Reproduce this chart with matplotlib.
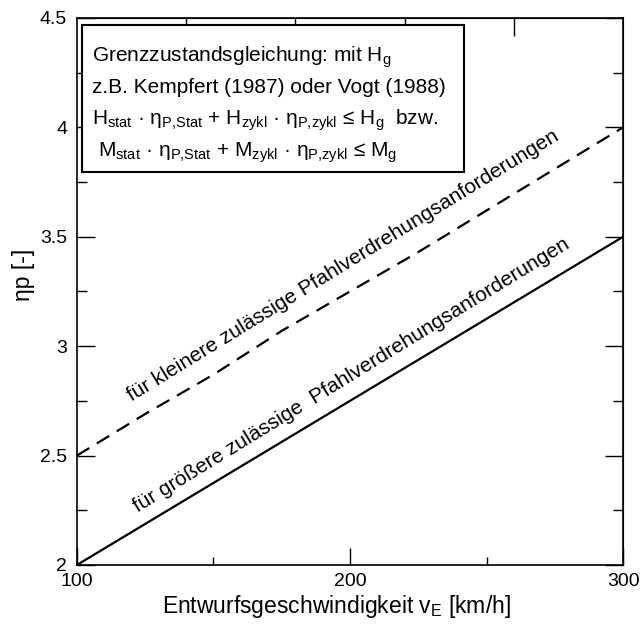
import matplotlib
matplotlib.use('Agg')
import matplotlib.pyplot as plt
from matplotlib.patches import Rectangle

plt.rcParams['font.family'] = ['Liberation Sans', 'DejaVu Sans']
plt.rcParams['mathtext.fontset'] = 'custom'
plt.rcParams['mathtext.rm'] = 'Liberation Sans'
plt.rcParams['mathtext.it'] = 'Liberation Sans:italic'
plt.rcParams['mathtext.default'] = 'regular'

# data
v_solid = [100, 300]
eta_solid = [2.0, 3.5]
v_dash = [100, 125, 150, 175, 200, 225, 250, 275, 300]
eta_dash = [2.5, 2.69, 2.87, 3.07, 3.25, 3.43, 3.62, 3.81, 4.0]

x_major = [100, 200, 300]
x_major_labels = ['100', '200', '300']
x_minor = [150, 250]
x_top = [140, 180, 220, 260]
y_major = [2, 2.5, 3, 3.5, 4, 4.5]
y_major_labels = ['2', '2.5', '3', '3.5', '4', '4.5']
y_minor = [2.25, 2.75, 3.25, 3.75, 4.25]

box_lines = [
    'Grenzzustandsgleichung: mit H$_{g}$',
    'z.B. Kempfert (1987) oder Vogt (1988)',
    'H$_{stat}$ · η$_{P{,}Stat}$ + H$_{zykl}$ · η$_{P{,}zykl}$ ≤ H$_{g}$  bzw.',
    'M$_{stat}$ · η$_{P{,}Stat}$ + M$_{zykl}$ · η$_{P{,}zykl}$ ≤ M$_{g}$',
]
label_small = 'für kleinere zulässige Pfahlverdrehungsanforderungen'
label_large = 'für größere zulässige  Pfahlverdrehungsanforderungen'

fig = plt.figure(figsize=(6.41, 6.24), dpi=100)
ax = fig.add_axes([0.120, 0.0946, 0.852, 0.8766])

ax.plot(v_solid, eta_solid, color='black', lw=1.6, solid_capstyle='butt')
ax.plot(v_dash, eta_dash, color='black', lw=1.6, dashes=(6.5, 4))

ax.set_xlim(100, 300)
ax.set_ylim(2, 4.5)

ax.set_xticks(x_major)
ax.set_xticklabels(x_major_labels)
ax.set_xticks(x_minor, minor=True)
ax.set_yticks(y_major)
ax.set_yticklabels(y_major_labels)
ax.set_yticks(y_minor, minor=True)
ax.tick_params(axis='x', which='major', direction='in', length=12, width=1, labelsize=14, pad=6)
ax.tick_params(axis='x', which='minor', direction='in', length=6, width=1)
ax.tick_params(axis='y', which='major', direction='in', length=13, width=1, labelsize=14, pad=7)
ax.tick_params(axis='y', which='minor', direction='in', length=7, width=1)
for s in ax.spines.values():
    s.set_linewidth(1.2)

top = ax.secondary_xaxis('top')
top.set_xticks(x_top)
top.set_xticklabels([])
top.tick_params(direction='in', length=13, width=1)

right = ax.secondary_yaxis('right')
right.set_yticks(y_major)
right.set_yticklabels([])
right.set_yticks(y_minor, minor=True)
right.tick_params(which='major', direction='in', length=13, width=1)
right.tick_params(which='minor', direction='in', length=7, width=1)

ax.set_xlabel('Entwurfsgeschwindigkeit v$_{E}$ [km/h]', fontsize=16.5)
ax.xaxis.set_label_coords(0.476, -0.052)
ax.set_ylabel('ηp [-]', fontsize=16.5)
ax.yaxis.set_label_coords(-0.076, 0.53)

# box with limit state text
ax.add_patch(Rectangle((0.009, 0.718), 0.700, 0.269, transform=ax.transAxes,
                       facecolor='white', edgecolor='black', lw=1.5, zorder=5))
line_y = [0.920, 0.862, 0.804, 0.746]
line_x = [0.027, 0.027, 0.027, 0.039]
for t, xx, yy in zip(box_lines, line_x, line_y):
    ax.text(xx, yy, t, transform=ax.transAxes, fontsize=15, ha='left', va='baseline', zorder=6)

ax.text(120.1, 2.745, label_small, fontsize=15, rotation=31.5, rotation_mode='anchor',
        ha='left', va='baseline')
ax.text(122.3, 2.238, label_large, fontsize=15, rotation=31.5, rotation_mode='anchor',
        ha='left', va='baseline')

fig.savefig('out.png', dpi=100)
